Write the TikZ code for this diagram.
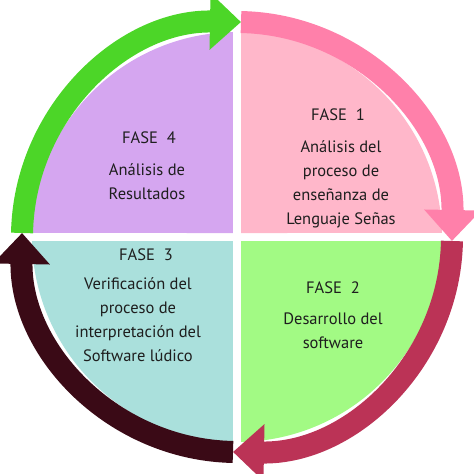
\documentclass[tikz,border=0pt]{standalone}
\usepackage{fontspec}
\setmainfont{PT Sans}
\usetikzlibrary{arrows.meta}
\definecolor{rosa}{RGB}{255,183,202}
\definecolor{rosaO}{RGB}{255,128,170}
\definecolor{verde}{RGB}{162,250,132}
\definecolor{granate}{RGB}{187,51,86}
\definecolor{turq}{RGB}{170,224,220}
\definecolor{marron}{RGB}{58,10,22}
\definecolor{lila}{RGB}{213,166,240}
\definecolor{verdeO}{RGB}{76,214,40}
\definecolor{texto}{RGB}{30,30,30}
\begin{document}
\begin{tikzpicture}[x=1pt,y=1pt,
    fase/.style={text=texto,font=\fontsize{16.5}{19}\selectfont},
    desc/.style={text=texto,align=center,font=\fontsize{16.5}{24}\selectfont},
    banda/.style={line width=22pt,-{Triangle[length=31pt,width=55pt]}}]
\useasboundingbox (-237,-237) rectangle (237,237);
\foreach \a/\c in {0/rosa,-90/verde,180/turq,90/lila}
    \fill[\c] (\a+45:5.657) -- (\a+1.12:205) arc (\a+1.12:\a+88.88:205) -- cycle;
% bandas exteriores, cada flecha termina en el borde del cuadrante siguiente
\foreach \a/\c in {88.93/rosaO,-1.07/granate,-91.07/marron,178.93/verdeO}
    \draw[banda,\c] (\a:215) arc (\a:\a-90:215);

\node[fase] (f1) at (101,122) {FASE~~1};
\node[desc] (d1) at (104,53) {Análisis del\\proceso de\\enseñanza de\\Lenguaje Señas};
\node[fase] (f2) at (96,-51) {FASE~~2};
\node[desc] (d2) at (96,-94) {Desarrollo del\\software};
\node[fase] (f3) at (-91,-18) {FASE~~3};
\node[desc] (d3) at (-99,-83) {Verificación del\\proceso de\\interpretación del\\Software lúdico};
\node[fase] (f4) at (-88,99) {FASE~~4};
\node[desc] (d4) at (-90,55) {Análisis de\\Resultados};
\end{tikzpicture}
\end{document}
